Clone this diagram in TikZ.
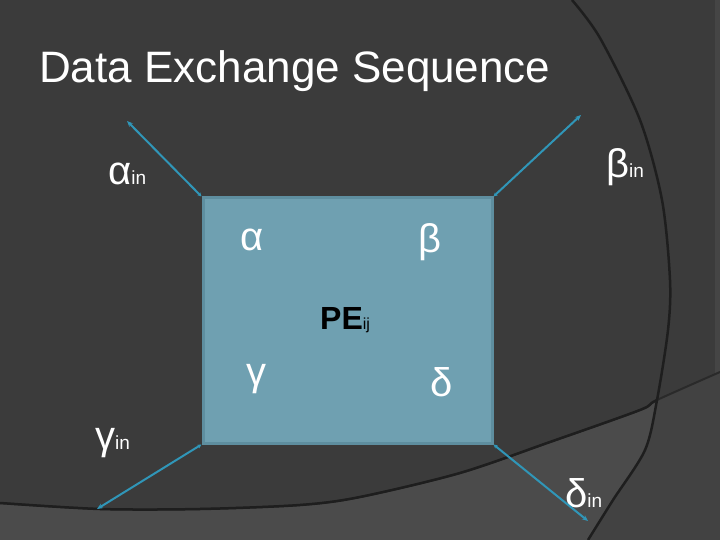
\documentclass[tikz,border=0pt]{standalone}
\usepackage{fontspec}
\setmainfont{Liberation Sans}
\usetikzlibrary{arrows.meta}
\definecolor{bgmain}{HTML}{3B3B3B}
\definecolor{bglight}{HTML}{4B4B4B}
\definecolor{bgmid}{HTML}{424242}
\definecolor{strip}{HTML}{454545}
\definecolor{arcline}{HTML}{1E1E1E}
\definecolor{boxfill}{HTML}{6FA0B1}
\definecolor{boxline}{HTML}{5E8E9F}
\definecolor{conn}{HTML}{3096B8}
\tikzset{
  lbl/.style={anchor=base west, inner sep=0pt, text=white},
  pebox/.style={draw=boxline, line width=3pt, fill=boxfill, minimum width=289pt, minimum height=245pt, inner sep=0pt},
  connector/.style={draw=conn, line width=2pt, {Stealth[length=4pt,width=4pt]}-{Stealth[length=6pt,width=5pt]}},
}
\newcommand{\gk}{\fontsize{40}{40}\selectfont}
\newcommand{\sm}{\fontsize{19}{19}\selectfont}
\def\bigarc{(572,0) (600,38) (640,120) (662,200) (670,280) (668,330) (657,400) (645,450) (613,500) (588,540)}
\def\botarc{(0,503) (100,509) (200,509) (300,505) (360,497) (460,473) (550,442) (640,410) (657,400) (720,372)}
\begin{document}
\begin{tikzpicture}[x=1pt,y=-1pt]
\useasboundingbox (0,0) rectangle (720,540);
% background
\fill[bgmain] (0,0) rectangle (720,540);
\fill[strip] (715,0) rectangle (720,540);
\begin{scope}
  \clip (0,540) -- plot[smooth] coordinates {\botarc} -- (720,540) -- cycle;
  \fill[bgmid] (0,0) rectangle (720,540);
  \fill[bglight] (0,0) -- plot[smooth] coordinates {\bigarc} -- (0,540) -- cycle;
\end{scope}
\draw[arcline!60!bgmain, line width=2pt] plot[smooth] coordinates {\botarc};
\begin{scope}
  \clip (0,0) -- plot[smooth] coordinates {\bigarc} -- (0,540) -- cycle;
  \draw[arcline, line width=2.5pt] plot[smooth] coordinates {\botarc};
\end{scope}
\draw[arcline, line width=2.5pt] plot[smooth] coordinates {\bigarc};

% title
\node[lbl] (title) at (39,83) {\fontsize{44}{44}\selectfont Data Exchange Sequence};

% box
\node[pebox] (pe) at (347.5,320.5) {};
\node[lbl, text=black] (pelbl) at (320,329) {\fontsize{32}{32}\selectfont\bfseries PE\fontsize{16}{16}\selectfont\mdseries ij};

% inner labels
\node[lbl] (a) at (240,251) {\gk α};
\node[lbl] (b) at (418,252) {\gk β};
\node[lbl] (g) at (246,385) {\gk γ};
\node[lbl] (d) at (430,396) {\gk δ};

% outer labels
\node[lbl] (ain) at (108,185) {\gk α\sm in};
\node[lbl] (bin) at (606,178) {\gk β\sm in};
\node[lbl] (gin) at (95,449) {\gk γ\sm in};
\node[lbl] (din) at (565,507) {\gk δ\sm in};

% connector ends
\coordinate (ea) at (127,121);
\coordinate (eb) at (581,115);
\coordinate (eg) at (97,509);
\coordinate (ed) at (588,521);

\draw[connector] (pe.north west) -- (ea);
\draw[connector] (pe.north east) -- (eb);
\draw[connector] (pe.south west) -- (eg);
\draw[connector] (pe.south east) -- (ed);
\end{tikzpicture}
\end{document}
